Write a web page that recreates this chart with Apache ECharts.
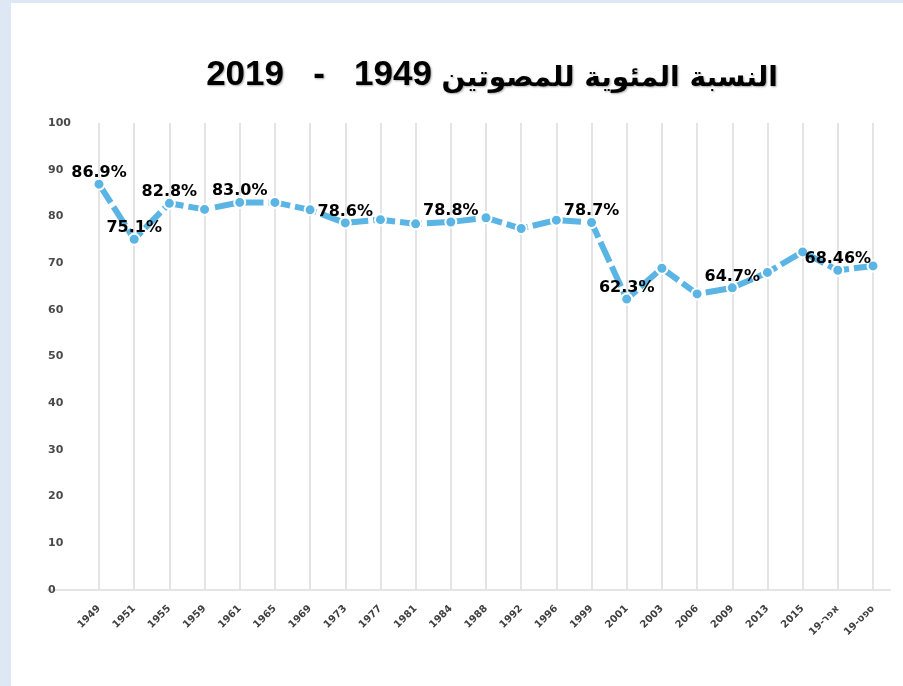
<!DOCTYPE html>
<html>
<head>
<meta charset="utf-8">
<script src="https://cdn.jsdelivr.net/npm/echarts@6/dist/echarts.min.js"></script>
<style>
  html, body { margin: 0; padding: 0; background: #dde8f4; }
  #chart { position: absolute; left: 11px; top: 3px; width: 892px; height: 683px; background: #ffffff; }
</style>
</head>
<body>
<div id="chart"></div>
<script>
// Election years (last two: April / September 2019)
const categories = ['1949', '1951', '1955', '1959', '1961', '1965', '1969', '1973', '1977', '1981',
  '1984', '1988', '1992', '1996', '1999', '2001', '2003', '2006', '2009', '2013', '2015',
  'אפר-19', 'ספט-19'];

// Voter turnout, percent
const turnout = [86.9, 75.1, 82.8, 81.5, 83.0, 83.0, 81.4, 78.6, 79.3, 78.4,
  78.8, 79.7, 77.4, 79.2, 78.7, 62.3, 68.9, 63.4, 64.7, 68.0, 72.4,
  68.46, 69.4];

// Labels printed next to some of the points ('' = none)
const pointLabels = ['86.9%', '75.1%', '82.8%', '', '83.0%', '', '', '78.6%', '', '',
  '78.8%', '', '', '', '78.7%', '62.3%', '', '', '64.7%', '', '',
  '68.46%', ''];

// Title: Arabic words + year range (RLM keeps the range in right-to-left order)
const titleWords = 'النسبة المئوية للمصوتين';
const titleYears = '\u200F1949   -   2019';

const chart = echarts.init(document.getElementById('chart'));

const option = {
  backgroundColor: '#ffffff',
  animation: false,
  title: {
    // right-to-left line: the years sit on the left of the words
    text: '{d|' + titleYears + '} {a|' + titleWords + '}',
    left: 476,
    top: 41,
    textAlign: 'center',
    textStyle: {
      fontFamily: "'Liberation Sans', Arial, sans-serif",
      fontWeight: 'bold',
      fontSize: 35,
      lineHeight: 44,
      textShadowColor: 'rgba(0,0,0,0.35)',
      textShadowBlur: 2,
      textShadowOffsetX: 1,
      textShadowOffsetY: 1,
      rich: {
        d: {
          fontFamily: "'Liberation Sans', Arial, sans-serif",
          fontWeight: 'bold',
          fontSize: 35,
          lineHeight: 44,
          verticalAlign: 'bottom',
          color: '#000000'
        },
        a: {
          fontFamily: "'DejaVu Sans', sans-serif",
          fontWeight: 'bold',
          fontSize: 28,
          lineHeight: 44,
          verticalAlign: 'bottom',
          color: '#000000'
        }
      }
    }
  },
  grid: [
    { left: 88, right: 30, top: 120, bottom: 96 },
    // wider grid only used for the long baseline
    { left: 37, right: 13, top: 120, bottom: 96 }
  ],
  xAxis: [
    {
      type: 'category',
      gridIndex: 0,
      data: categories,
      boundaryGap: false,
      axisLine: { show: false },
      axisTick: { show: false },
      splitLine: { show: true, lineStyle: { color: '#e4e4e4', width: 2 } },
      axisLabel: {
        rotate: 45,
        margin: 17,
        interval: 0,
        fontFamily: "'DejaVu Sans', sans-serif",
        fontWeight: 'bold',
        fontSize: 10,
        color: '#404040',
        formatter: v => v + '\u200F'
      }
    },
    {
      type: 'value',
      gridIndex: 1,
      min: 0,
      max: 1,
      axisLine: { show: true, onZero: false, lineStyle: { color: '#e4e4e4', width: 2 } },
      axisTick: { show: false },
      axisLabel: { show: false },
      splitLine: { show: false }
    }
  ],
  yAxis: [
    {
      type: 'value',
      gridIndex: 0,
      min: 0,
      max: 100,
      interval: 10,
      axisLine: { show: false },
      axisTick: { show: false },
      splitLine: { show: false },
      axisLabel: {
        align: 'left',
        margin: 51,
        padding: [0, 0, 16, 0],
        fontFamily: "'DejaVu Sans', sans-serif",
        fontWeight: 'bold',
        fontSize: 11,
        color: '#4a4a4a'
      }
    },
    { type: 'value', gridIndex: 1, min: 0, max: 1, show: false }
  ],
  series: [
    {
      type: 'line',
      xAxisIndex: 0,
      yAxisIndex: 0,
      data: turnout,
      symbol: 'circle',
      symbolSize: 11,
      lineStyle: { color: '#5ab4e4', width: 6, type: [22, 5] },
      itemStyle: { color: '#5ab4e4', borderColor: '#ffffff', borderWidth: 2 },
      label: {
        show: true,
        position: 'top',
        distance: 0,
        offset: [0, 3],
        fontFamily: "'DejaVu Sans', sans-serif",
        fontWeight: 'bold',
        fontSize: 16,
        color: '#000000',
        formatter: p => pointLabels[p.dataIndex]
      }
    }
  ]
};

chart.setOption(option);
window.addEventListener('resize', () => chart.resize());
</script>
</body>
</html>
